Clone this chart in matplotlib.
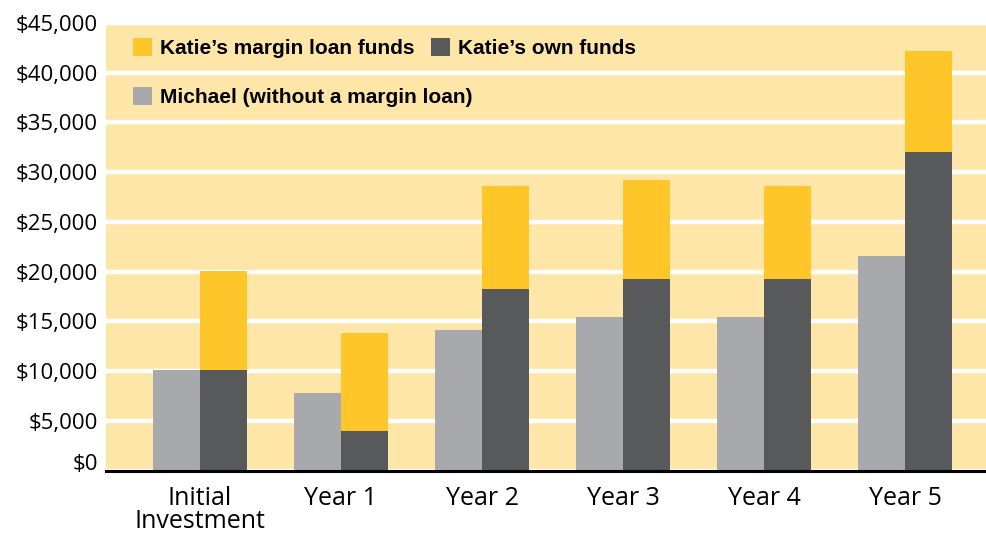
#!/usr/bin/env python3
# plot.py: Katie (margin loan) vs Michael (no margin loan) – portfolio value by year

import numpy as np
import matplotlib
matplotlib.use("Agg")
import matplotlib.pyplot as plt
from matplotlib.patches import Patch
from matplotlib.ticker import FuncFormatter
import matplotlib.transforms as mtransforms

# Data (dollars)
categories = ["Initial\nInvestment", "Year 1", "Year 2", "Year 3", "Year 4", "Year 5"]
michael = [10100, 7800, 14100, 15400, 15400, 21600]
katie_own = [10100, 4000, 18300, 19300, 19300, 32000]
katie_total = [20100, 13800, 28600, 29200, 28600, 42200]
katie_margin = [t - o for t, o in zip(katie_total, katie_own)]
y_ticks = list(range(0, 45001, 5000))

# Colours
bg_yellow = "#FEE6A8"
margin_yellow = "#FFC629"
own_gray = "#58595B"
michael_gray = "#A7A9AC"

W, H = 986, 534
fig = plt.figure(figsize=(W / 100, H / 100), dpi=100)
ax = fig.add_axes([106 / W, (H - 470.5) / H, (W - 106) / W, 447.5 / H])
ax.set_facecolor(bg_yellow)

x = np.arange(len(categories))
bw = 1 / 3

ax.bar(x - bw / 2, michael, width=bw, color=michael_gray, zorder=3)
ax.bar(x + bw / 2, katie_own, width=bw, color=own_gray, zorder=3)
ax.bar(x + bw / 2, katie_margin, width=bw, bottom=katie_own, color=margin_yellow, zorder=3)

ax.set_xlim(-94 / 141, 786 / 141)
ax.set_ylim(0, 45000)
ax.set_yticks(y_ticks)
ax.yaxis.set_major_formatter(FuncFormatter(lambda v, p: f"${v:,.0f}"))
ax.grid(axis="y", color="white", linewidth=3.2, zorder=1)
ax.set_axisbelow(True)

ax.set_xticks(x)
ax.set_xticklabels(categories, fontsize=18, family="Open Sans", linespacing=0.9)
ax.tick_params(axis="x", length=0, pad=11)
ax.tick_params(axis="y", length=0, pad=6, labelsize=16)
for lbl in ax.get_yticklabels():
    lbl.set_family("Open Sans")

for side in ["top", "right", "left"]:
    ax.spines[side].set_visible(False)
ax.spines["bottom"].set_color("black")
ax.spines["bottom"].set_linewidth(2.2)
ax.spines["bottom"].set_zorder(5)

# nudge the $0 label up like the original
t0 = ax.yaxis.get_major_ticks()[0].label1
t0.set_transform(t0.get_transform() + mtransforms.ScaledTranslation(0, 9 / 100, fig.dpi_scale_trans))

# Legend: two rows, placed by hand
leg_font = {"family": "Liberation Sans", "weight": "bold", "size": 15}
h_margin = Patch(facecolor=margin_yellow, edgecolor="none")
h_own = Patch(facecolor=own_gray, edgecolor="none")
h_mich = Patch(facecolor=michael_gray, edgecolor="none")

leg_x = (133 - 106) / (W - 106)
leg1 = ax.legend([h_margin, h_own], ["Katie\u2019s margin loan funds", "Katie\u2019s own funds"],
                 ncol=2, loc="center left", bbox_to_anchor=(leg_x, (470.5 - 48) / 447.5),
                 frameon=False, prop=leg_font, handlelength=0.92, handleheight=0.92,
                 handletextpad=0.38, columnspacing=0.8, borderpad=0, borderaxespad=0)
ax.add_artist(leg1)
ax.legend([h_mich], ["Michael (without a margin loan)"],
          loc="center left", bbox_to_anchor=(leg_x, (470.5 - 97) / 447.5),
          frameon=False, prop=leg_font, handlelength=0.92, handleheight=0.92,
          handletextpad=0.38, borderpad=0, borderaxespad=0)

fig.savefig("out.png", dpi=100)
